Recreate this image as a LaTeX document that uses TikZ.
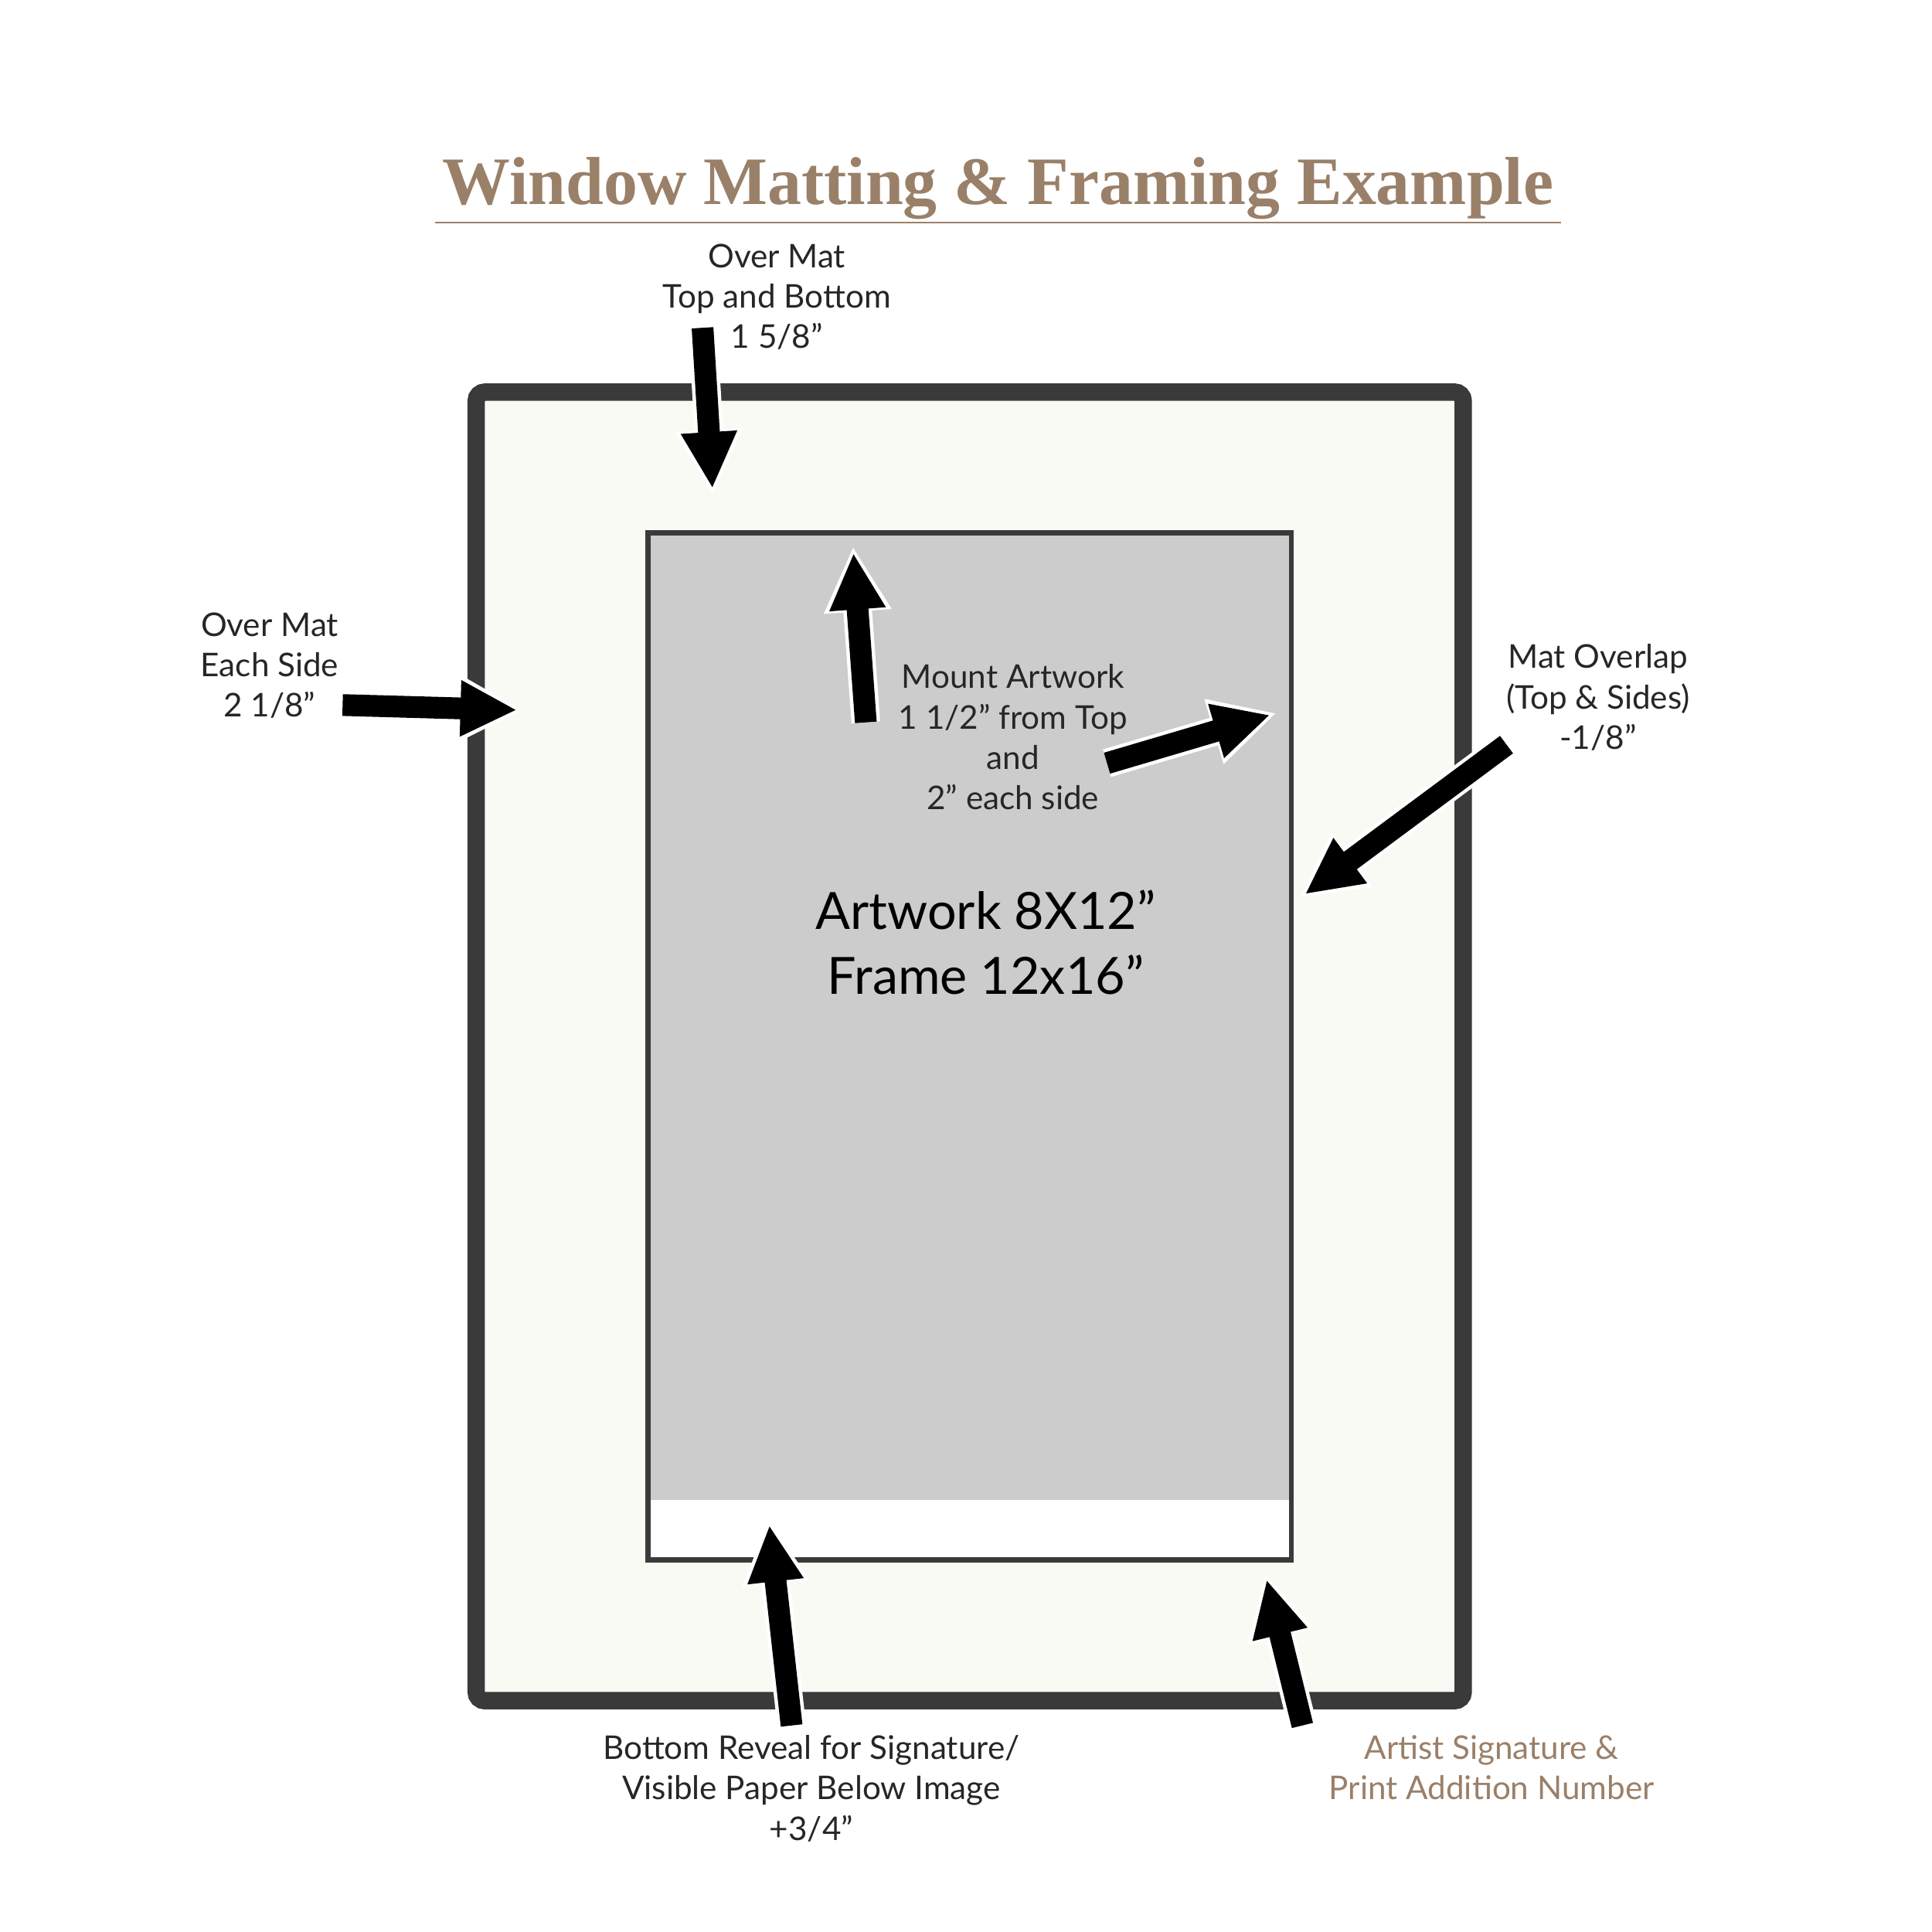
\documentclass[tikz,border=0pt]{standalone}
\usepackage{fontspec}
\setmainfont{Lato}
\newfontfamily\titlefont{Liberation Serif}
\usetikzlibrary{arrows.meta}
\definecolor{brownish}{HTML}{9A8069}
\definecolor{framec}{HTML}{3A3A3A}
\definecolor{matc}{HTML}{FAFAF4}
\definecolor{artc}{HTML}{CCCCCC}
\tikzset{
  lbl/.style={align=center,font=\fontsize{7.5pt}{9.3pt}\selectfont,text=black!85},
  arrw/.style={line width=5pt,-{Triangle[length=13pt,width=12pt]}},
  arrwbg/.style={white,line width=6.6pt,-{Triangle[length=15pt,width=14.5pt]},shorten >=-1.5pt},
}
\newcommand{\bigarrow}[2]{\draw[arrwbg] (#1) -- (#2); \draw[arrw] (#1) -- (#2);}
\begin{document}
\begin{tikzpicture}[x=0.01cm,y=-0.01cm]
\useasboundingbox (0,0) rectangle (1562,1562);
\draw[framec,line width=4pt,fill=matc,rounded corners=2pt] (385,317) rectangle (1183,1375);
\fill[white] (524,431) rectangle (1044,1261);
\fill[artc] (524,431) rectangle (1044,1213);
\draw[framec,line width=1.2pt] (524,431) rectangle (1044,1261);
\node[font=\titlefont\bfseries\fontsize{15.6pt}{18pt}\selectfont,text=brownish] (title) at (807,152) {Window Matting \& Framing Example};
\draw[brownish,line width=0.4pt] (352,180) -- (1262,180);
\node[lbl] (l1) at (628,240) {Over Mat\\Top and Bottom\\1 5/8”};
\node[lbl] (l2) at (218,538) {Over Mat\\Each Side\\2 1/8”};
\node[lbl] (l3) at (819,596) {Mount Artwork\\1 1/2” from Top\\and\\2” each side};
\node[lbl] (l4) at (1292,564) {Mat Overlap\\(Top \& Sides)\\-1/8”};
\node[lbl] (l5) at (656,1446) {Bottom Reveal for Signature/\\Visible Paper Below Image\\+3/4”};
\node[lbl,text=brownish] (l6) at (1206,1429) {Artist Signature \&\\Print Addition Number};
\node[align=center,font=\fontsize{11.8pt}{15pt}\selectfont] (art) at (797,762) {Artwork 8X12”\\Frame 12x16”};
\coordinate (a1s) at (568,265); \coordinate (a1e) at (576,395);
\coordinate (a2s) at (277,570); \coordinate (a2e) at (418,574);
\coordinate (a3s) at (700,584); \coordinate (a3e) at (690,447);
\coordinate (a4s) at (895,617); \coordinate (a4e) at (1027,578);
\coordinate (a5s) at (1218,602); \coordinate (a5e) at (1055,723);
\coordinate (a6s) at (640,1395); \coordinate (a6e) at (622,1233);
\coordinate (a7s) at (1053,1395); \coordinate (a7e) at (1024,1277);
\bigarrow{a1s}{a1e}
\bigarrow{a2s}{a2e}
\bigarrow{a3s}{a3e}
\bigarrow{a4s}{a4e}
\bigarrow{a5s}{a5e}
\bigarrow{a6s}{a6e}
\bigarrow{a7s}{a7e}
\end{tikzpicture}
\end{document}
